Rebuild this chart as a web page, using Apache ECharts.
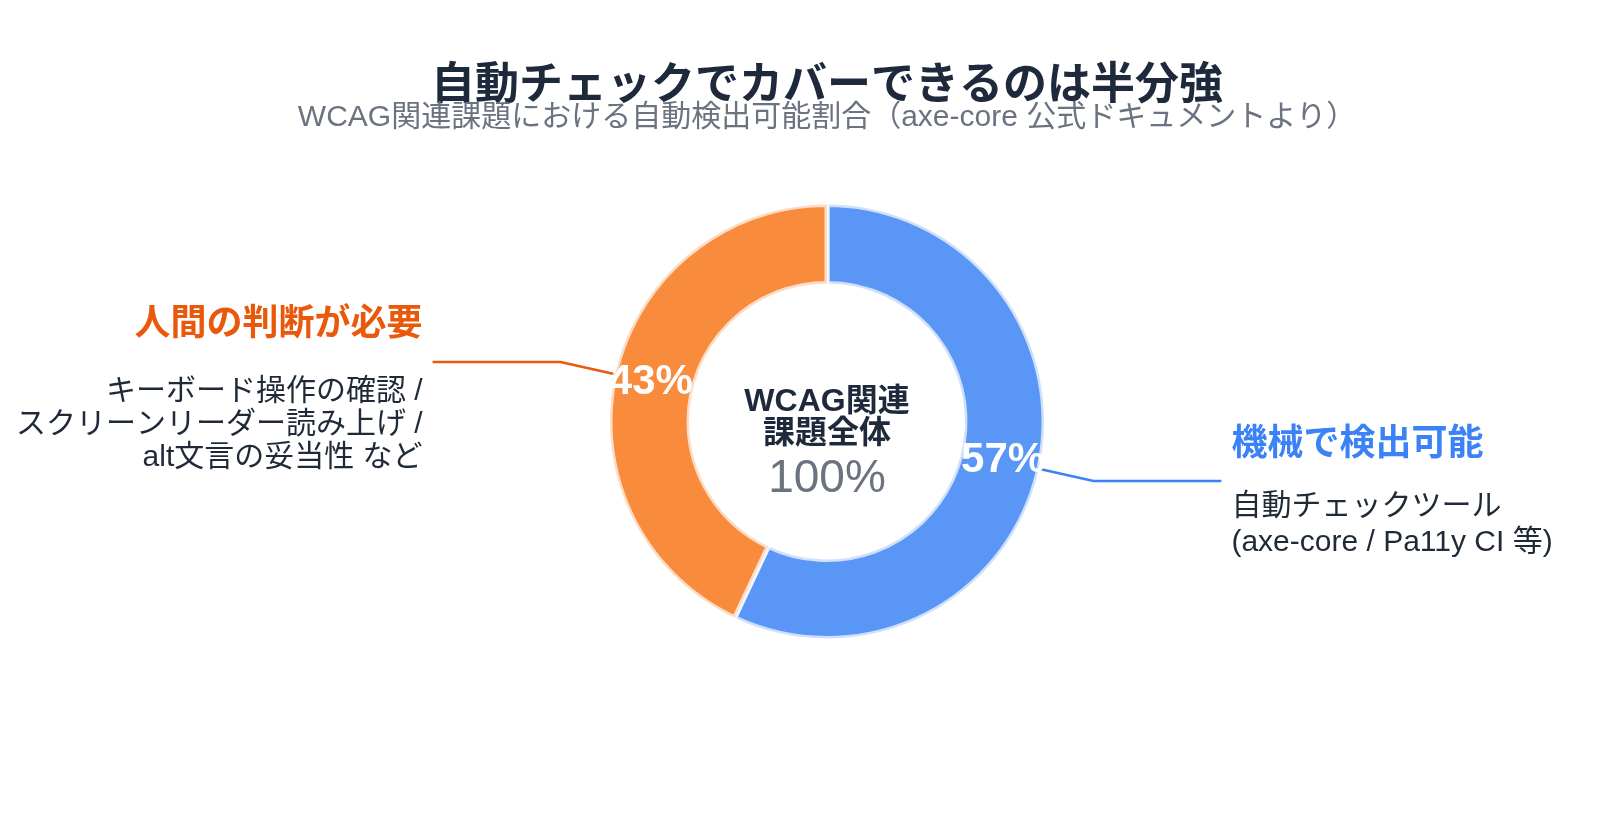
<!DOCTYPE html>
<html lang="ja">
<head>
<meta charset="utf-8">
<title>自動チェックでカバーできるのは半分強</title>
<script src="https://cdn.jsdelivr.net/npm/echarts@6/dist/echarts.min.js"></script>
<style>
  html, body { margin: 0; padding: 0; background: #fff; }
  #chart { width: 1613px; height: 835px; }
</style>
</head>
<body>
<div id="chart"></div>
<script>
// --- data ---
const titleText = "自動チェックでカバーできるのは半分強";
const subtitleText = "WCAG関連課題における自動検出可能割合（axe-core 公式ドキュメントより）";
const centerLines = ["WCAG関連", "課題全体"];

const categories = ["機械で検出可能", "人間の判断が必要"];
const shares = [57, 43];
const details = [
  ["自動チェックツール", "(axe-core / Pa11y CI 等)"],
  ["キーボード操作の確認 /", "スクリーンリーダー読み上げ /", "alt文言の妥当性 など"]
];

// --- styles ---
const sliceColors = ["#5a96f6", "#f88b3c"];
const headColors = ["#3b82f6", "#ea580c"];
const FONT = '"Liberation Sans", "Noto Sans CJK JP", sans-serif';
const CX = 827;
const CY = 421.5;

const total = shares.reduce((a, b) => a + b, 0);
const chart = echarts.init(document.getElementById("chart"));

const ringData = categories.map((name, i) => ({
  name: name,
  value: shares[i],
  itemStyle: { color: sliceColors[i] },
  label: { padding: i === 0 ? [0, 0, 0, 0] : [25, 0, 0, 0] },
  labelLine: { lineStyle: { color: headColors[i] } }
}));

const option = {
  animation: false,
  title: [
    {
      text: titleText,
      left: CX,
      top: 87,
      padding: 0,
      textAlign: "center",
      textVerticalAlign: "middle",
      textStyle: { fontFamily: FONT, fontSize: 44, fontWeight: "bold", color: "#1e293b" }
    },
    {
      text: subtitleText,
      left: CX,
      top: 118,
      padding: 0,
      textAlign: "center",
      textVerticalAlign: "middle",
      textStyle: { fontFamily: FONT, fontSize: 30, fontWeight: "normal", color: "#6b7280" }
    },
    {
      text: centerLines.map((t) => "{c|" + t + "}").join("\n") + "\n{p|" + total + "%}",
      left: CX,
      top: 447,
      padding: 0,
      textAlign: "center",
      textVerticalAlign: "middle",
      textStyle: {
        rich: {
          c: { fontFamily: FONT, fontSize: 32, fontWeight: "bold", color: "#1e293b", lineHeight: 32 },
          p: { fontFamily: FONT, fontSize: 46, fontWeight: "normal", color: "#6b7280", lineHeight: 58 }
        }
      }
    }
  ],
  series: [
    {
      type: "pie",
      center: [CX, CY],
      radius: [138, 217],
      startAngle: 90,
      clockwise: true,
      emphasis: { disabled: true },
      itemStyle: { borderColor: "rgba(255,255,255,0.7)", borderWidth: 5 },
      label: {
        show: true,
        position: "outside",
        alignTo: "none",
        distanceToLabelLine: 10,
        formatter: (p) => {
          const i = p.dataIndex;
          const ds = i === 0 ? "dR" : "dL";
          return "{h" + i + "|" + p.name + "}\n" + details[i].map((t) => "{" + ds + "|" + t + "}").join("\n");
        },
        rich: {
          h0: { fontFamily: FONT, fontSize: 36, fontWeight: "bold", color: headColors[0], lineHeight: 88 },
          h1: { fontFamily: FONT, fontSize: 36, fontWeight: "bold", color: headColors[1], lineHeight: 100 },
          dR: { fontFamily: FONT, fontSize: 30, color: "#1f2937", lineHeight: 36 },
          dL: { fontFamily: FONT, fontSize: 30, color: "#1f2937", lineHeight: 33 }
        }
      },
      labelLine: {
        show: true,
        length: 56,
        length2: 128,
        smooth: false,
        lineStyle: { width: 2.5 }
      },
      data: ringData
    },
    {
      type: "pie",
      z: 5,
      silent: true,
      center: [CX, CY],
      radius: [138, 217],
      startAngle: 90,
      clockwise: true,
      emphasis: { disabled: true },
      itemStyle: { color: "transparent", borderWidth: 0 },
      label: {
        show: true,
        position: "inside",
        formatter: "{c}%",
        fontFamily: FONT,
        fontSize: 42,
        fontWeight: "bold",
        color: "#ffffff"
      },
      labelLine: { show: false },
      data: categories.map((name, i) => ({ name: name, value: shares[i] }))
    }
  ]
};

chart.setOption(option);
</script>
</body>
</html>
